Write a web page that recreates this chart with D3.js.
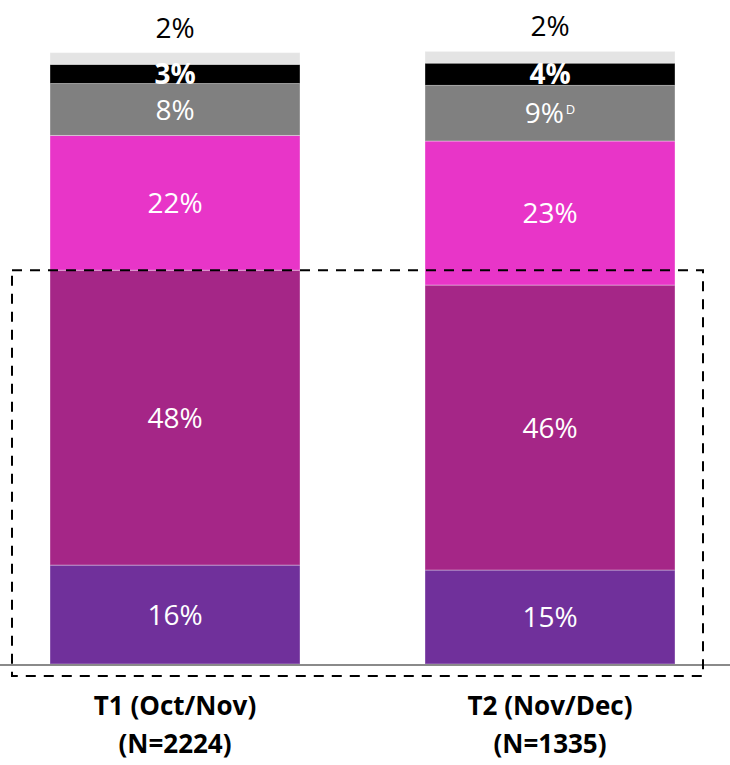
<!DOCTYPE html>
<html>
<head>
<meta charset="utf-8">
<script src="https://cdn.jsdelivr.net/npm/d3@7"></script>
<style>
  html, body { margin: 0; padding: 0; background: #fff; }
  svg { display: block; font-family: "Open Sans", "Noto Sans", sans-serif; }
</style>
</head>
<body>
<div id="chart"></div>
<script>
// data (labels show rounded values)
const periods = ["T1 (Oct/Nov)", "T2 (Nov/Dec)"];
const sampleSizes = ["(N=2224)", "(N=1335)"];
const levels = ["L1", "L2", "L3", "L4", "L5", "L6"]; // bottom to top
const t1Values = [16.0, 47.7, 21.8, 8.4, 3.1, 1.9];
const t2Values = [15.2, 46.1, 23.3, 9.0, 3.6, 1.9];
const t1Notes = ["", "", "", "", "", ""];
const t2Notes = ["", "", "", "D", "", ""];

const colors = ["#70309b", "#a52687", "#e835c8", "#808080", "#000000", "#e4e4e4"];

const width = 730, height = 765;
const baseline = 664;

const svg = d3.select("#chart").append("svg")
    .attr("width", width)
    .attr("height", height);

const x = d3.scaleBand()
    .domain(periods)
    .range([50, 675])
    .paddingInner(1 / 3)
    .paddingOuter(0);

const y = d3.scaleLinear()
    .domain([0, 99])
    .range([baseline, 52]);

const rows = periods.map((p, i) => {
    const vals = i === 0 ? t1Values : t2Values;
    const notes = i === 0 ? t1Notes : t2Notes;
    const row = { period: p };
    levels.forEach((l, j) => { row[l] = vals[j]; row[l + "_note"] = notes[j]; });
    return row;
});

const series = d3.stack().keys(levels)(rows);

// bars
const layers = svg.append("g")
    .selectAll("g")
    .data(series)
    .join("g")
    .attr("fill", (d, i) => colors[i]);

layers.selectAll("rect")
    .data(d => d.map(s => ({ s, key: d.key })))
    .join("rect")
    .attr("x", d => x(d.s.data.period))
    .attr("width", x.bandwidth())
    .attr("y", d => y(d.s[1]))
    .attr("height", d => y(d.s[0]) - y(d.s[1]))
    .attr("stroke", "rgba(255,255,255,0.35)")
    .attr("stroke-width", 1);

// segment labels
const labels = svg.append("g").attr("text-anchor", "middle").attr("font-size", 28);

series.forEach((layer, i) => {
    layer.forEach(s => {
        const val = Math.round(s[1] - s[0]);
        const top = i === levels.length - 1;
        const cx = x(s.data.period) + x.bandwidth() / 2;
        const cy = top ? y(s[1]) - 25 : (y(s[0]) + y(s[1])) / 2;
        const t = labels.append("text")
            .attr("x", cx)
            .attr("y", cy)
            .attr("dy", "0.36em")
            .attr("fill", top ? "#000" : "#fff")
            .attr("font-weight", i === 4 ? "bold" : null)
            .text(val + "%");
        const note = s.data[layer.key + "_note"];
        if (note) {
            t.append("tspan")
                .attr("font-size", 13)
                .attr("dx", 2)
                .attr("dy", "-0.7em")
                .text(note);
        }
    });
});

// axis line
svg.append("line")
    .attr("x1", 0)
    .attr("x2", width)
    .attr("y1", baseline + 1)
    .attr("y2", baseline + 1)
    .attr("stroke", "#8a8a8a")
    .attr("stroke-width", 2);

// dashed highlight box around bottom two levels
const boxTop = y(d3.max(rows, r => r[levels[0]] + r[levels[1]]));
svg.append("rect")
    .attr("x", x(periods[0]) - 38)
    .attr("y", boxTop)
    .attr("width", x(periods[1]) + x.bandwidth() + 28 - (x(periods[0]) - 38))
    .attr("height", baseline + 12 - boxTop)
    .attr("fill", "none")
    .attr("stroke", "#000")
    .attr("stroke-width", 2)
    .attr("stroke-dasharray", "10,8");

// category labels
const cats = svg.append("g")
    .attr("text-anchor", "middle")
    .attr("font-size", 26)
    .attr("font-weight", "bold")
    .attr("fill", "#000");

periods.forEach((p, i) => {
    const cx = x(p) + x.bandwidth() / 2;
    cats.append("text").attr("x", cx).attr("y", 715).text(p);
    cats.append("text").attr("x", cx).attr("y", 753).text(sampleSizes[i]);
});
</script>
</body>
</html>
